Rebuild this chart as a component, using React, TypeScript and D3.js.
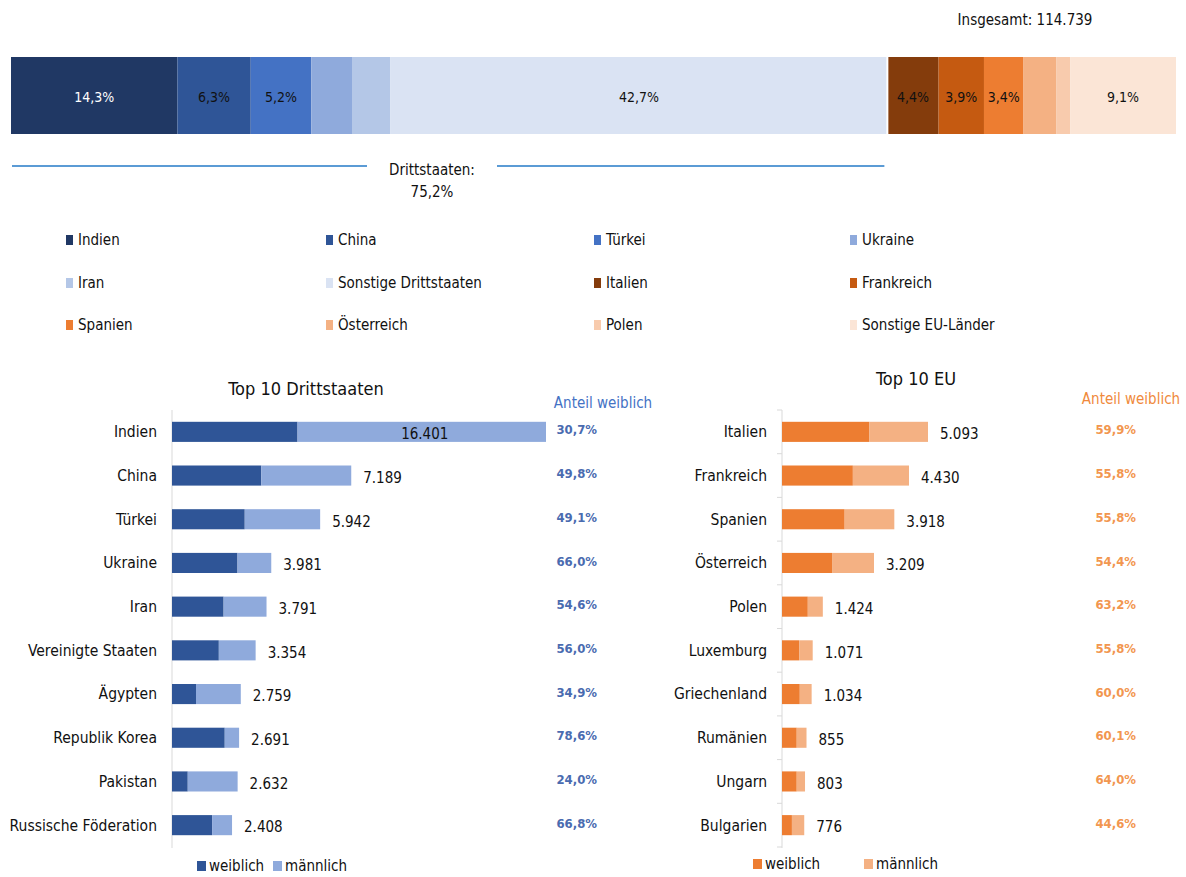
import React from "react";
import * as d3 from "d3";

// top stacked bar (share of total, %)
const topCategories = [
  "Indien", "China", "Türkei", "Ukraine", "Iran", "Sonstige Drittstaaten",
  "Italien", "Frankreich", "Spanien", "Österreich", "Polen", "Sonstige EU-Länder",
];
const topShares = [14.3, 6.3, 5.2, 3.5, 3.3, 42.7, 4.4, 3.9, 3.4, 2.8, 1.2, 9.1];
const topLabels = ["14,3%", "6,3%", "5,2%", "", "", "42,7%", "4,4%", "3,9%", "3,4%", "", "", "9,1%"];
const topColors = [
  "#203864", "#2F5597", "#4472C4", "#8FAADC", "#B4C7E7", "#DAE3F3",
  "#843C0C", "#C55A11", "#ED7D31", "#F4B183", "#F8CBAD", "#FBE5D6",
];
const topLabelColors = ["#fff", "#111", "#111", "#111", "#111", "#111", "#111", "#111", "#111", "#111", "#111", "#111"];
const drittCount = 6;
const totalText = "Insgesamt: 114.739";
const drittText = ["Drittstaaten:", "75,2%"];

// Top 10 Drittstaaten
const thirdCountries = [
  "Indien", "China", "Türkei", "Ukraine", "Iran", "Vereinigte Staaten",
  "Ägypten", "Republik Korea", "Pakistan", "Russische Föderation",
];
const thirdTotals = [16401, 7189, 5942, 3981, 3791, 3354, 2759, 2691, 2632, 2408];
const thirdFemaleShare = [30.7, 49.8, 49.1, 66.0, 54.6, 56.0, 34.9, 78.6, 24.0, 66.8];

// Top 10 EU
const euCountries = [
  "Italien", "Frankreich", "Spanien", "Österreich", "Polen", "Luxemburg",
  "Griechenland", "Rumänien", "Ungarn", "Bulgarien",
];
const euTotals = [5093, 4430, 3918, 3209, 1424, 1071, 1034, 855, 803, 776];
const euFemaleShare = [59.9, 55.8, 55.8, 54.4, 63.2, 55.8, 60.0, 60.1, 64.0, 44.6];

const FONT = "'Liberation Sans Narrow', 'DejaVu Sans Condensed', 'Liberation Sans', sans-serif";
const fmtN = (v: number) => d3.format(",")(v).replace(/,/g, ".");
const fmtP = (v: number) => v.toFixed(1).replace(".", ",") + "%";

interface PanelProps {
  title: string;
  titleX: number;
  titleY: number;
  cats: string[];
  totals: number[];
  shares: number[];
  x0: number;
  domainMax: number;
  rangeW: number;
  femaleColor: string;
  maleColor: string;
  shareColor: string;
  headColor: string;
  headX: number;
  headY: number;
  shareX: number;
  legendX: number[];
  legendY: number;
  ticks: boolean;
}

const Panel: React.FC<PanelProps> = (p) => {
  const y = d3.scaleBand<string>().domain(p.cats).range([410, 847]).paddingInner(0.54).paddingOuter(0.27);
  const x = d3.scaleLinear().domain([0, p.domainMax]).range([p.x0, p.x0 + p.rangeW]).clamp(true);
  const step = y.step();
  return (
    <g>
      <text x={p.titleX} y={p.titleY} textAnchor="middle" fontSize={18} fill="#111">{p.title}</text>
      <text x={p.headX} y={p.headY} textAnchor="middle" fontSize={15} fontWeight={500} fill={p.headColor}>Anteil weiblich</text>
      <line x1={p.x0} x2={p.x0} y1={410} y2={848} stroke="#D9D9D9" strokeWidth={1} />
      {p.ticks &&
        d3.range(p.cats.length + 1).map((i) => (
          <line key={i} x1={p.x0 - 5} x2={p.x0} y1={410 + i * step} y2={410 + i * step} stroke="#D9D9D9" />
        ))}
      {p.cats.map((c, i) => {
        const yy = y(c) as number;
        const bh = y.bandwidth();
        const fem = (p.totals[i] * p.shares[i]) / 100;
        const xEnd = x(p.totals[i]);
        const clipped = p.totals[i] > p.domainMax;
        return (
          <g key={c}>
            <text x={p.x0 - 15} y={yy + bh / 2} dy="0.35em" textAnchor="end" fontSize={15.5} fill="#111">{c}</text>
            <rect x={p.x0} y={yy} width={x(fem) - p.x0} height={bh} fill={p.femaleColor} />
            <rect x={x(fem)} y={yy} width={xEnd - x(fem)} height={bh} fill={p.maleColor} />
            <text
              x={clipped ? (x(fem) + xEnd) / 2 + 3 : xEnd + 12}
              y={yy + bh / 2 + 2}
              dy="0.35em"
              textAnchor={clipped ? "middle" : "start"}
              fontSize={15}
              fill="#111"
            >
              {fmtN(p.totals[i])}
            </text>
            <text x={p.shareX} y={yy + bh / 2 - 2} dy="0.35em" textAnchor="end" fontSize={13} fontWeight="bold" fill={p.shareColor}>
              {fmtP(p.shares[i])}
            </text>
          </g>
        );
      })}
      <rect x={p.legendX[0]} y={p.legendY - 5} width={9} height={10} fill={p.femaleColor} />
      <text x={p.legendX[0] + 12} y={p.legendY} dy="0.35em" fontSize={15} fill="#111">weiblich</text>
      <rect x={p.legendX[1]} y={p.legendY - 5} width={9} height={10} fill={p.maleColor} />
      <text x={p.legendX[1] + 12} y={p.legendY} dy="0.35em" fontSize={15} fill="#111">männlich</text>
    </g>
  );
};

export default function App() {
  const total = d3.sum(topShares);
  const x = d3.scaleLinear().domain([0, total]).range([11, 1176]);
  const cum = d3.cumsum(topShares);
  const starts = topShares.map((v, i) => cum[i] - v);
  const drittEnd = x(cum[drittCount - 1]);
  const legendCols = [66, 326, 594, 850];
  const legendRows = [240, 283, 325];

  return (
    <svg
      width={1186}
      height={877}
      style={{ position: "absolute", left: 0, top: 0, fontFamily: FONT, background: "#fff" }}
    >
      <text x={1025} y={20} dy="0.35em" textAnchor="middle" fontSize={15} fill="#111">{totalText}</text>
      {topShares.map((v, i) => (
        <g key={topCategories[i]}>
          <rect x={x(starts[i])} y={57} width={x(cum[i]) - x(starts[i])} height={77} fill={topColors[i]} />
          {topLabels[i] && (
            <text
              x={(x(starts[i]) + x(cum[i])) / 2}
              y={97}
              dy="0.35em"
              textAnchor="middle"
              fontSize={14}
              fill={topLabelColors[i]}
            >
              {topLabels[i]}
            </text>
          )}
        </g>
      ))}
      <line x1={drittEnd} x2={drittEnd} y1={57} y2={134} stroke="#fff" strokeWidth={2} />

      <line x1={12} x2={367} y1={166} y2={166} stroke="#5B9BD5" strokeWidth={2} />
      <line x1={497} x2={drittEnd - 3} y1={166} y2={166} stroke="#5B9BD5" strokeWidth={2} />
      <text x={432} y={170} dy="0.35em" textAnchor="middle" fontSize={15} fill="#111">{drittText[0]}</text>
      <text x={432} y={192} dy="0.35em" textAnchor="middle" fontSize={15} fill="#111">{drittText[1]}</text>

      {topCategories.map((c, i) => {
        const lx = legendCols[i % 4];
        const ly = legendRows[Math.floor(i / 4)];
        return (
          <g key={c}>
            <rect x={lx} y={ly - 5} width={7} height={10} fill={topColors[i]} />
            <text x={lx + 12} y={ly} dy="0.35em" fontSize={15} fill="#111">{c}</text>
          </g>
        );
      })}

      <Panel
        title="Top 10 Drittstaaten"
        titleX={306}
        titleY={395}
        cats={thirdCountries}
        totals={thirdTotals}
        shares={thirdFemaleShare}
        x0={172}
        domainMax={15000}
        rangeW={374}
        femaleColor="#2F5597"
        maleColor="#8FAADC"
        shareColor="#4A6BB0"
        headColor="#4472C4"
        headX={603}
        headY={408}
        shareX={597}
        legendX={[197, 273]}
        legendY={866}
        ticks={false}
      />
      <Panel
        title="Top 10 EU"
        titleX={916}
        titleY={385}
        cats={euCountries}
        totals={euTotals}
        shares={euFemaleShare}
        x0={782}
        domainMax={6000}
        rangeW={172}
        femaleColor="#ED7D31"
        maleColor="#F4B183"
        shareColor="#F2964F"
        headColor="#F08A3C"
        headX={1131}
        headY={404}
        shareX={1136}
        legendX={[753, 864]}
        legendY={864}
        ticks={true}
      />
    </svg>
  );
}
